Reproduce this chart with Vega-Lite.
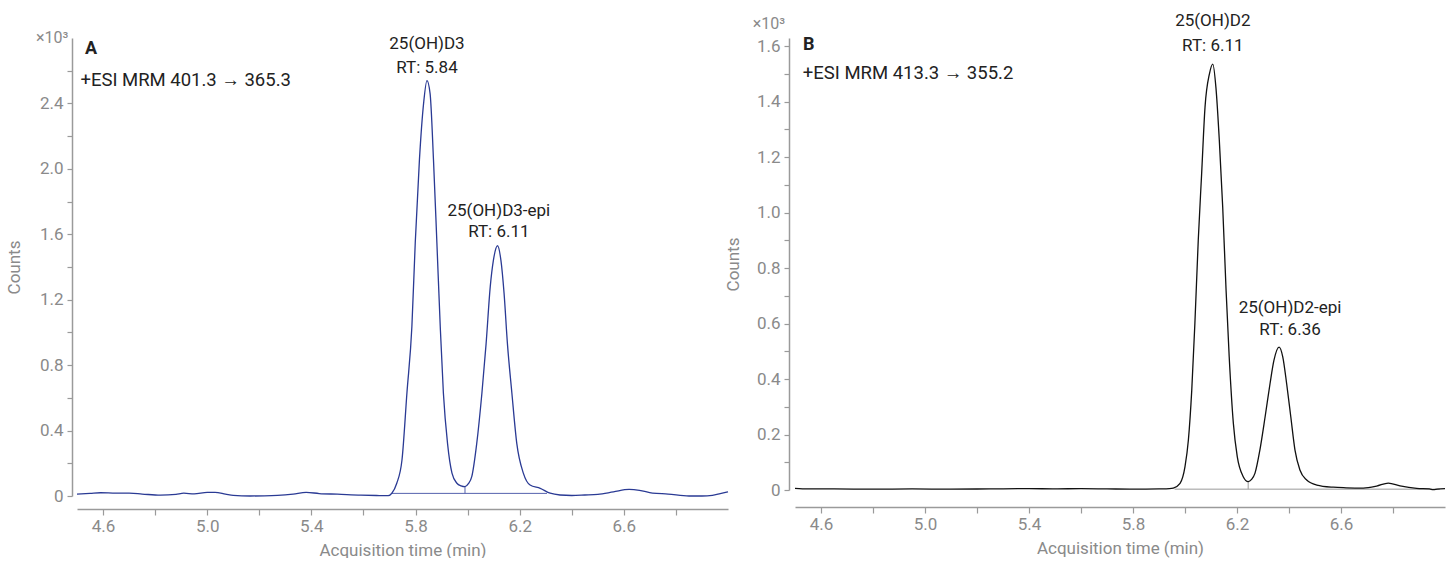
{
  "$schema": "https://vega.github.io/schema/vega-lite/v6.json",
  "background": "white",
  "padding": {"left": 5, "top": 12, "right": 5, "bottom": 0},
  "bounds": "flush",
  "spacing": 67,
  "config": {
    "font": "Roboto",
    "view": {"stroke": null},
    "axis": {
      "grid": false,
      "labelFont": "Roboto", "labelFontSize": 17, "labelColor": "#8a8a8a",
      "titleFont": "Roboto", "titleFontSize": 17, "titleColor": "#8a8a8a", "titleFontWeight": "normal",
      "domainColor": "#9a9a9a", "domainWidth": 1.5,
      "tickColor": "#9a9a9a", "tickWidth": 1.2, "tickSize": 6,
      "labelOverlap": false, "labelFlush": false
    },
    "axisX": {"labelPadding": 3, "titlePadding": 8},
    "axisY": {"tickSize": 5, "labelPadding": 4, "titlePadding": 12}
  },
  "datasets": {
    "traceA": [
      {"t": 4.50, "v": 0.012}, {"t": 4.55, "v": 0.016}, {"t": 4.59, "v": 0.020}, {"t": 4.65, "v": 0.017},
      {"t": 4.70, "v": 0.017}, {"t": 4.75, "v": 0.012}, {"t": 4.82, "v": 0.005}, {"t": 4.88, "v": 0.010},
      {"t": 4.91, "v": 0.017}, {"t": 4.95, "v": 0.013}, {"t": 5.00, "v": 0.022}, {"t": 5.03, "v": 0.022},
      {"t": 5.07, "v": 0.012}, {"t": 5.10, "v": 0.004}, {"t": 5.165, "v": 0.000}, {"t": 5.22, "v": 0.001},
      {"t": 5.27, "v": 0.004}, {"t": 5.33, "v": 0.012}, {"t": 5.38, "v": 0.022}, {"t": 5.43, "v": 0.015},
      {"t": 5.50, "v": 0.011}, {"t": 5.59, "v": 0.005}, {"t": 5.65, "v": 0.003}, {"t": 5.695, "v": 0.002},
      {"t": 5.709, "v": 0.017}, {"t": 5.728, "v": 0.078}, {"t": 5.748, "v": 0.22}, {"t": 5.767, "v": 0.63},
      {"t": 5.786, "v": 1.035}, {"t": 5.799, "v": 1.55}, {"t": 5.815, "v": 2.055}, {"t": 5.831, "v": 2.40},
      {"t": 5.844, "v": 2.54}, {"t": 5.856, "v": 2.46}, {"t": 5.869, "v": 2.055}, {"t": 5.882, "v": 1.55},
      {"t": 5.895, "v": 1.035}, {"t": 5.907, "v": 0.63}, {"t": 5.923, "v": 0.32}, {"t": 5.94, "v": 0.14},
      {"t": 5.959, "v": 0.078}, {"t": 5.975, "v": 0.062}, {"t": 5.99, "v": 0.057}, {"t": 6.003, "v": 0.075},
      {"t": 6.016, "v": 0.118}, {"t": 6.035, "v": 0.32}, {"t": 6.055, "v": 0.63}, {"t": 6.071, "v": 0.93},
      {"t": 6.087, "v": 1.28}, {"t": 6.099, "v": 1.44}, {"t": 6.115, "v": 1.53}, {"t": 6.128, "v": 1.44},
      {"t": 6.140, "v": 1.24}, {"t": 6.153, "v": 0.93}, {"t": 6.17, "v": 0.63}, {"t": 6.189, "v": 0.32},
      {"t": 6.214, "v": 0.14}, {"t": 6.24, "v": 0.067}, {"t": 6.279, "v": 0.047}, {"t": 6.317, "v": 0.017},
      {"t": 6.355, "v": 0.006}, {"t": 6.40, "v": 0.003}, {"t": 6.45, "v": 0.006}, {"t": 6.50, "v": 0.010},
      {"t": 6.56, "v": 0.025}, {"t": 6.62, "v": 0.040}, {"t": 6.66, "v": 0.035}, {"t": 6.71, "v": 0.018},
      {"t": 6.77, "v": 0.012}, {"t": 6.85, "v": 0.000}, {"t": 6.90, "v": 0.000}, {"t": 6.94, "v": 0.004},
      {"t": 6.97, "v": 0.014}, {"t": 7.00, "v": 0.025}
    ],
    "traceB": [
      {"t": 4.50, "v": 0.006}, {"t": 4.55, "v": 0.004}, {"t": 4.65, "v": 0.004}, {"t": 4.80, "v": 0.003},
      {"t": 4.95, "v": 0.004}, {"t": 5.10, "v": 0.003}, {"t": 5.25, "v": 0.004}, {"t": 5.40, "v": 0.005},
      {"t": 5.50, "v": 0.004}, {"t": 5.60, "v": 0.005}, {"t": 5.70, "v": 0.004}, {"t": 5.80, "v": 0.003},
      {"t": 5.90, "v": 0.004}, {"t": 5.94, "v": 0.005}, {"t": 5.955, "v": 0.007}, {"t": 5.981, "v": 0.024},
      {"t": 6.000, "v": 0.084}, {"t": 6.013, "v": 0.18}, {"t": 6.026, "v": 0.36}, {"t": 6.038, "v": 0.60},
      {"t": 6.051, "v": 0.90}, {"t": 6.064, "v": 1.14}, {"t": 6.077, "v": 1.38}, {"t": 6.094, "v": 1.50},
      {"t": 6.107, "v": 1.535}, {"t": 6.119, "v": 1.45}, {"t": 6.132, "v": 1.26}, {"t": 6.145, "v": 1.02},
      {"t": 6.158, "v": 0.72}, {"t": 6.17, "v": 0.48}, {"t": 6.186, "v": 0.24}, {"t": 6.201, "v": 0.12},
      {"t": 6.224, "v": 0.048}, {"t": 6.243, "v": 0.030}, {"t": 6.256, "v": 0.038}, {"t": 6.269, "v": 0.06},
      {"t": 6.288, "v": 0.144}, {"t": 6.308, "v": 0.263}, {"t": 6.327, "v": 0.383}, {"t": 6.342, "v": 0.467},
      {"t": 6.362, "v": 0.515}, {"t": 6.376, "v": 0.48}, {"t": 6.391, "v": 0.383}, {"t": 6.407, "v": 0.263},
      {"t": 6.423, "v": 0.144}, {"t": 6.442, "v": 0.072}, {"t": 6.468, "v": 0.036}, {"t": 6.507, "v": 0.018},
      {"t": 6.57, "v": 0.010}, {"t": 6.62, "v": 0.008}, {"t": 6.686, "v": 0.007}, {"t": 6.737, "v": 0.014},
      {"t": 6.782, "v": 0.025}, {"t": 6.827, "v": 0.015}, {"t": 6.891, "v": 0.006}, {"t": 6.94, "v": 0.004},
      {"t": 6.955, "v": 0.001}, {"t": 6.97, "v": 0.003}, {"t": 7.00, "v": 0.005}
    ],
    "rulesA": [
      {"t": 5.709, "t2": 6.305, "v": 0.016, "v2": 0.016},
      {"t": 5.99, "t2": 5.99, "v": 0.016, "v2": 0.057}
    ],
    "rulesB": [
      {"t": 5.96, "t2": 6.98, "v": 0.003, "v2": 0.003},
      {"t": 6.243, "t2": 6.243, "v": 0.003, "v2": 0.030}
    ],
    "notes": [
      {"panel": "A", "kind": "exp", "t": 4.467, "v": 2.8, "label": "×10³"},
      {"panel": "A", "kind": "bold", "t": 4.531, "v": 2.73, "label": "A"},
      {"panel": "A", "kind": "left", "t": 4.513, "v": 2.545, "label": "+ESI MRM 401.3 → 365.3"},
      {"panel": "A", "kind": "peak", "t": 5.844, "v": 2.765, "label": "25(OH)D3"},
      {"panel": "A", "kind": "peak", "t": 5.844, "v": 2.618, "label": "RT: 5.84"},
      {"panel": "A", "kind": "peak", "t": 6.12, "v": 1.745, "label": "25(OH)D3-epi"},
      {"panel": "A", "kind": "peak", "t": 6.12, "v": 1.616, "label": "RT: 6.11"},
      {"panel": "B", "kind": "exp", "t": 4.462, "v": 1.68, "label": "×10³"},
      {"panel": "B", "kind": "bold", "t": 4.531, "v": 1.603, "label": "B"},
      {"panel": "B", "kind": "left", "t": 4.530, "v": 1.502, "label": "+ESI MRM 413.3 → 355.2"},
      {"panel": "B", "kind": "peak", "t": 6.107, "v": 1.69, "label": "25(OH)D2"},
      {"panel": "B", "kind": "peak", "t": 6.107, "v": 1.60, "label": "RT: 6.11"},
      {"panel": "B", "kind": "peak", "t": 6.404, "v": 0.656, "label": "25(OH)D2-epi"},
      {"panel": "B", "kind": "peak", "t": 6.404, "v": 0.577, "label": "RT: 6.36"}
    ]
  },
  "hconcat": [
    {
      "width": 651,
      "height": 458,
      "encoding": {
        "x": {
          "field": "t", "type": "quantitative", "title": "Acquisition time (min)",
          "scale": {"domain": [4.5, 7.0], "nice": false, "zero": false},
          "axis": {
            "values": [4.6, 4.8, 5.0, 5.2, 5.4, 5.6, 5.8, 6.0, 6.2, 6.4, 6.6, 6.8],
            "labelExpr": "abs(round(datum.value*10)-46)%4==0 ? format(datum.value,'.1f') : ''",
            "offset": 13
          }
        },
        "y": {
          "field": "v", "type": "quantitative", "title": "Counts",
          "scale": {"domain": [0, 2.8], "nice": false, "zero": false},
          "axis": {
            "values": [0, 0.2, 0.4, 0.6, 0.8, 1.0, 1.2, 1.4, 1.6, 1.8, 2.0, 2.2, 2.4, 2.6],
            "labelExpr": "datum.value==0 ? '0' : (round(datum.value*10)%4==0 ? format(datum.value,'.1f') : '')",
            "offset": 5,
            "titlePadding": 16
          }
        }
      },
      "layer": [
        {
          "data": {"name": "rulesA"},
          "mark": {"type": "rule", "color": "#5561ad", "strokeWidth": 1},
          "encoding": {"x2": {"field": "t2"}, "y2": {"field": "v2"}}
        },
        {
          "data": {"name": "traceA"},
          "mark": {"type": "line", "color": "#2a3a94", "strokeWidth": 1.3, "interpolate": "monotone"},
          "encoding": {}
        },
        {
          "data": {"name": "notes"},
          "transform": [{"filter": "datum.panel == 'A' && datum.kind == 'peak'"}],
          "mark": {"type": "text", "align": "center", "baseline": "middle", "fontSize": 17, "color": "#222222", "font": "Roboto"},
          "encoding": {"text": {"field": "label"}}
        },
        {
          "data": {"name": "notes"},
          "transform": [{"filter": "datum.panel == 'A' && datum.kind == 'left'"}],
          "mark": {"type": "text", "align": "left", "baseline": "middle", "fontSize": 18.5, "color": "#222222", "font": "Roboto"},
          "encoding": {"text": {"field": "label"}}
        },
        {
          "data": {"name": "notes"},
          "transform": [{"filter": "datum.panel == 'A' && datum.kind == 'bold'"}],
          "mark": {"type": "text", "align": "left", "baseline": "middle", "fontSize": 18, "fontWeight": "bold", "color": "#222222", "font": "Roboto"},
          "encoding": {"text": {"field": "label"}}
        },
        {
          "data": {"name": "notes"},
          "transform": [{"filter": "datum.panel == 'A' && datum.kind == 'exp'"}],
          "mark": {"type": "text", "align": "right", "baseline": "middle", "fontSize": 16, "color": "#8a8a8a", "font": "Roboto"},
          "encoding": {"text": {"field": "label"}}
        }
      ]
    },
    {
      "width": 650,
      "height": 452,
      "encoding": {
        "x": {
          "field": "t", "type": "quantitative", "title": "Acquisition time (min)",
          "scale": {"domain": [4.5, 7.0], "nice": false, "zero": false},
          "axis": {
            "values": [4.6, 4.8, 5.0, 5.2, 5.4, 5.6, 5.8, 6.0, 6.2, 6.4, 6.6, 6.8],
            "labelExpr": "abs(round(datum.value*10)-46)%4==0 ? format(datum.value,'.1f') : ''",
            "offset": 17
          }
        },
        "y": {
          "field": "v", "type": "quantitative", "title": "Counts",
          "scale": {"domain": [0, 1.629], "nice": false, "zero": false},
          "axis": {
            "values": [0, 0.1, 0.2, 0.3, 0.4, 0.5, 0.6, 0.7, 0.8, 0.9, 1.0, 1.1, 1.2, 1.3, 1.4, 1.5, 1.6],
            "labelExpr": "datum.value==0 ? '0' : (round(datum.value*10)%2==0 ? format(datum.value,'.1f') : '')",
            "offset": 6,
            "titlePadding": 14
          }
        }
      },
      "layer": [
        {
          "data": {"name": "rulesB"},
          "mark": {"type": "rule", "color": "#9a9a9a", "strokeWidth": 1},
          "encoding": {"x2": {"field": "t2"}, "y2": {"field": "v2"}}
        },
        {
          "data": {"name": "traceB"},
          "mark": {"type": "line", "color": "#111111", "strokeWidth": 1.3, "interpolate": "monotone"},
          "encoding": {}
        },
        {
          "data": {"name": "notes"},
          "transform": [{"filter": "datum.panel == 'B' && datum.kind == 'peak'"}],
          "mark": {"type": "text", "align": "center", "baseline": "middle", "fontSize": 17, "color": "#222222", "font": "Roboto"},
          "encoding": {"text": {"field": "label"}}
        },
        {
          "data": {"name": "notes"},
          "transform": [{"filter": "datum.panel == 'B' && datum.kind == 'left'"}],
          "mark": {"type": "text", "align": "left", "baseline": "middle", "fontSize": 18.5, "color": "#222222", "font": "Roboto"},
          "encoding": {"text": {"field": "label"}}
        },
        {
          "data": {"name": "notes"},
          "transform": [{"filter": "datum.panel == 'B' && datum.kind == 'bold'"}],
          "mark": {"type": "text", "align": "left", "baseline": "middle", "fontSize": 18, "fontWeight": "bold", "color": "#222222", "font": "Roboto"},
          "encoding": {"text": {"field": "label"}}
        },
        {
          "data": {"name": "notes"},
          "transform": [{"filter": "datum.panel == 'B' && datum.kind == 'exp'"}],
          "mark": {"type": "text", "align": "right", "baseline": "middle", "fontSize": 16, "color": "#8a8a8a", "font": "Roboto"},
          "encoding": {"text": {"field": "label"}}
        }
      ]
    }
  ]
}
